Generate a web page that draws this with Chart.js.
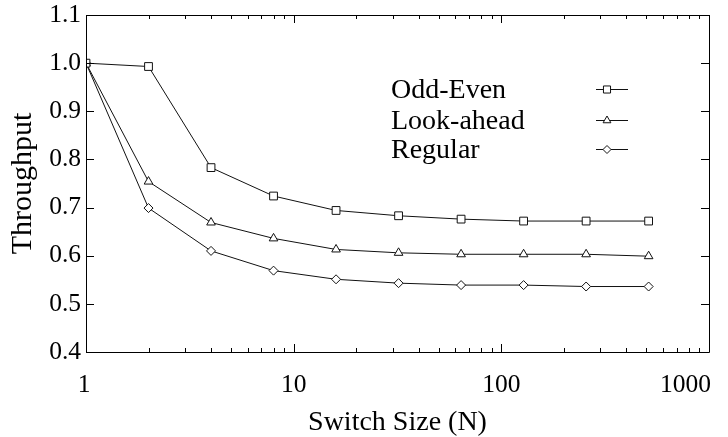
<!DOCTYPE html>
<html>
<head>
<meta charset="utf-8">
<script src="https://cdn.jsdelivr.net/npm/chart.js@4/dist/chart.umd.min.js"></script>
<style>
html,body{margin:0;padding:0;background:#fff;}
#wrap{width:728px;height:437px;position:relative;}
</style>
</head>
<body>
<div id="wrap"><canvas id="c" width="728" height="437"></canvas></div>
<script>
// ---- data ----
const switchSizes = [1, 2, 4, 8, 16, 32, 64, 128, 256, 512];
const oddEven   = [1.0, 0.993, 0.783, 0.724, 0.694, 0.683, 0.676, 0.672, 0.672, 0.672];
const lookAhead = [1.0, 0.754, 0.669, 0.636, 0.613, 0.606, 0.603, 0.603, 0.603, 0.599];
const regular   = [1.0, 0.699, 0.610, 0.569, 0.551, 0.543, 0.539, 0.539, 0.536, 0.536];
const seriesNames = ['Odd-Even', 'Look-ahead', 'Regular'];
const yTicks = [0.4, 0.5, 0.6, 0.7, 0.8, 0.9, 1.0, 1.1];
const xMajorTicks = [1, 10, 100, 1000];
const xTickLabels = ['1', '10', '100', '1000'];

const FONT = "'Liberation Serif', 'Times New Roman', serif";
const styles = [
  {pointStyle: 'rect', radius: 5.5},
  {pointStyle: 'triangle', radius: 5},
  {pointStyle: 'rectRot', radius: 4.5}
];

function mk(name, vals, st) {
  return {
    label: name,
    data: switchSizes.map((x, i) => ({x: x, y: vals[i]})),
    borderColor: '#111',
    borderWidth: 1,
    backgroundColor: '#fff',
    pointBackgroundColor: '#fff',
    pointBorderColor: '#111',
    pointBorderWidth: 1,
    pointStyle: st.pointStyle,
    pointRadius: st.radius,
    pointHoverRadius: st.radius,
    showLine: true,
    tension: 0,
    fill: false
  };
}

const framePlugin = {
  id: 'frame',
  afterDatasetsDraw(chart) {
    const ctx = chart.ctx;
    const a = chart.chartArea;
    const xs = chart.scales.x, ys = chart.scales.y;
    ctx.save();
    ctx.strokeStyle = '#000';
    ctx.lineWidth = 1;
    ctx.beginPath();
    ctx.rect(Math.round(a.left) + 0.5, Math.round(a.top) + 0.5,
             Math.round(a.right - a.left), Math.round(a.bottom - a.top));
    ctx.stroke();
    ctx.beginPath();
    // x ticks (major + minor) on bottom and top
    for (let d = 0; d < xMajorTicks.length; d++) {
      const base = xMajorTicks[d];
      for (let k = 1; k <= 9; k++) {
        const v = base * k;
        if (v > 1000) break;
        const px = Math.round(xs.getPixelForValue(v)) + 0.5;
        const len = (k === 1) ? 8 : 4;
        ctx.moveTo(px, a.bottom); ctx.lineTo(px, a.bottom - len);
        ctx.moveTo(px, a.top); ctx.lineTo(px, a.top + len);
      }
    }
    // y ticks left and right
    yTicks.forEach(v => {
      const py = Math.round(ys.getPixelForValue(v)) + 0.5;
      ctx.moveTo(a.left, py); ctx.lineTo(a.left + 8, py);
      ctx.moveTo(a.right, py); ctx.lineTo(a.right - 8, py);
    });
    ctx.stroke();

    // x tick labels (the last one kept inside the canvas)
    ctx.fillStyle = '#000';
    ctx.font = '25.5px ' + FONT;
    ctx.textBaseline = 'middle';
    ctx.textAlign = 'center';
    xMajorTicks.forEach((v, i) => {
      const txt = xTickLabels[i];
      const w = ctx.measureText(txt).width;
      let px = xs.getPixelForValue(v);
      px = Math.min(px, chart.width - 17 - w / 2);
      if (i === 0) px -= 2;
      ctx.fillText(txt, px, a.bottom + 33);
    });

    // legend
    const rows = [89, 120, 149];
    ctx.font = '28px ' + FONT;
    ctx.textBaseline = 'middle';
    ctx.textAlign = 'left';
    chart.data.datasets.forEach((ds, i) => {
      const y = rows[i];
      ctx.fillStyle = '#000';
      ctx.fillText(ds.label, 391, y + 2);
      ctx.beginPath();
      ctx.strokeStyle = '#111';
      ctx.lineWidth = 1;
      ctx.moveTo(596, y + 0.5); ctx.lineTo(628, y + 0.5);
      ctx.stroke();
      ctx.fillStyle = '#fff';
      ctx.strokeStyle = '#111';
      Chart.helpers.drawPoint(ctx, {pointStyle: styles[i].pointStyle, radius: styles[i].radius - 0.5, rotation: 0, borderWidth: 1}, 607, y + 0.5);
    });
    ctx.restore();
  }
};

new Chart(document.getElementById('c'), {
  type: 'scatter',
  data: {
    datasets: [
      mk(seriesNames[0], oddEven, styles[0]),
      mk(seriesNames[1], lookAhead, styles[1]),
      mk(seriesNames[2], regular, styles[2])
    ]
  },
  options: {
    responsive: false,
    animation: false,
    devicePixelRatio: 1,
    layout: {padding: {top: 15, right: 19, left: 0, bottom: 0}},
    plugins: {legend: {display: false}, tooltip: {enabled: false}},
    scales: {
      x: {
        type: 'logarithmic',
        min: 1, max: 1000,
        grid: {display: false, drawTicks: false},
        border: {display: false},
        afterBuildTicks(scale) {
          scale.ticks = xMajorTicks.map(v => ({value: v, major: true}));
        },
        afterFit(scale) {
          scale.height = 85;
          scale.paddingLeft = 0; scale.paddingRight = 0;
        },
        ticks: {display: false},
        title: {
          display: true, text: 'Switch Size (N)', color: '#000',
          font: {family: FONT, size: 28, lineHeight: 1.0},
          padding: {top: 0, bottom: 0}
        }
      },
      y: {
        min: 0.4, max: 1.1,
        grid: {display: false, drawTicks: false},
        border: {display: false},
        afterBuildTicks(scale) {
          scale.ticks = yTicks.map(v => ({value: v}));
        },
        afterFit(scale) {
          scale.width = 86;
          scale.paddingTop = 0; scale.paddingBottom = 0;
        },
        ticks: {
          color: '#000',
          font: {family: FONT, size: 25.5},
          padding: 5,
          callback: (v) => Number(v).toFixed(1)
        },
        title: {
          display: true, text: 'Throughput', color: '#000',
          font: {family: FONT, size: 30, lineHeight: 1.0},
          padding: {top: 8, bottom: 0}
        }
      }
    }
  },
  plugins: [framePlugin]
});
</script>
</body>
</html>
